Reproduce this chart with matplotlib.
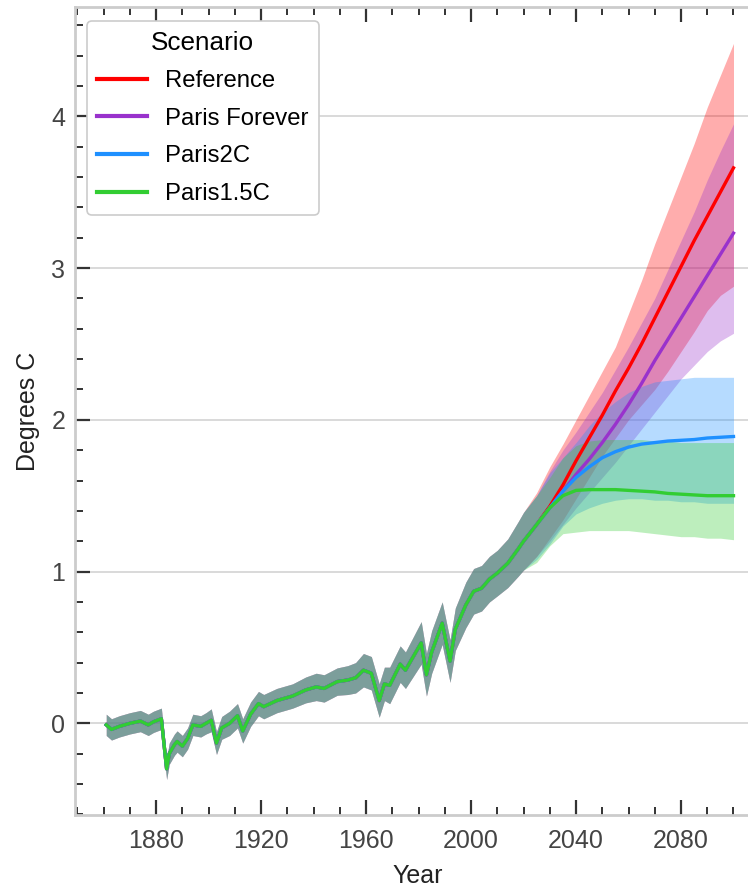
import matplotlib
matplotlib.use('Agg')
import matplotlib.pyplot as plt
from matplotlib.ticker import MultipleLocator

plt.rcParams['font.family'] = ['Liberation Sans', 'DejaVu Sans']

# observed / hindcast temperature anomaly, shared by every scenario
hist_years = [1861, 1863, 1866, 1870, 1874, 1877, 1879, 1882, 1884, 1885,
              1887, 1888, 1890, 1892, 1894, 1897, 1899, 1901, 1903, 1905,
              1908, 1911, 1913, 1916, 1919, 1921, 1926, 1932, 1937, 1941,
              1944, 1949, 1953, 1956, 1959, 1962, 1965, 1967, 1969, 1973,
              1975, 1981, 1983, 1985, 1989, 1992, 1994, 1998, 2001, 2004,
              2007, 2010, 2014, 2018, 2020]
hist_temp = [-0.01, -0.04, -0.02, 0.00, 0.015, -0.01, 0.01, 0.03, -0.30, -0.20,
             -0.14, -0.12, -0.15, -0.10, -0.01, -0.02, 0.00, 0.02, -0.13, -0.03,
             0.00, 0.05, -0.05, 0.06, 0.13, 0.11, 0.15, 0.18, 0.22, 0.24,
             0.23, 0.275, 0.285, 0.30, 0.35, 0.33, 0.15, 0.26, 0.25, 0.39,
             0.35, 0.53, 0.32, 0.47, 0.66, 0.41, 0.62, 0.78, 0.87, 0.89,
             0.95, 0.99, 1.055, 1.15, 1.20]
hist_spread = [0.07, 0.07, 0.07, 0.07, 0.07, 0.07, 0.07, 0.07, 0.07, 0.07,
               0.07, 0.07, 0.07, 0.07, 0.07, 0.07, 0.07, 0.075, 0.075, 0.075,
               0.08, 0.08, 0.08, 0.08, 0.08, 0.08, 0.08, 0.08, 0.085, 0.09,
               0.09, 0.09, 0.095, 0.10, 0.11, 0.11, 0.11, 0.11, 0.12, 0.12,
               0.12, 0.14, 0.14, 0.14, 0.14, 0.14, 0.14, 0.15, 0.15, 0.15,
               0.15, 0.15, 0.16, 0.18, 0.19]

# projections
future_years = [2025, 2030, 2035, 2040, 2045, 2050, 2055, 2060,
                2065, 2070, 2075, 2080, 2085, 2090, 2095, 2100]

ref_mean = [1.31, 1.43, 1.57, 1.73, 1.88, 2.03, 2.19, 2.34,
            2.50, 2.67, 2.84, 3.01, 3.18, 3.34, 3.50, 3.66]
ref_hi = [1.52, 1.69, 1.84, 2.00, 2.16, 2.32, 2.48, 2.70,
          2.92, 3.16, 3.38, 3.60, 3.82, 4.06, 4.27, 4.48]
ref_lo = [1.10, 1.22, 1.34, 1.48, 1.62, 1.76, 1.88, 2.00,
          2.10, 2.20, 2.32, 2.45, 2.58, 2.72, 2.82, 2.88]

pf_mean = [1.31, 1.42, 1.53, 1.64, 1.74, 1.85, 1.97, 2.10,
           2.24, 2.39, 2.53, 2.67, 2.81, 2.95, 3.09, 3.23]
pf_hi = [1.50, 1.66, 1.80, 1.92, 2.05, 2.18, 2.33, 2.48,
         2.64, 2.80, 2.99, 3.18, 3.37, 3.58, 3.77, 3.95]
pf_lo = [1.10, 1.20, 1.31, 1.42, 1.52, 1.62, 1.72, 1.83,
         1.94, 2.05, 2.16, 2.27, 2.36, 2.45, 2.52, 2.57]

p2_mean = [1.31, 1.42, 1.53, 1.62, 1.69, 1.75, 1.79, 1.82,
           1.84, 1.85, 1.86, 1.865, 1.87, 1.88, 1.885, 1.89]
p2_hi = [1.50, 1.65, 1.75, 1.85, 1.96, 2.05, 2.12, 2.18,
         2.22, 2.25, 2.26, 2.27, 2.28, 2.28, 2.28, 2.28]
p2_lo = [1.08, 1.18, 1.30, 1.38, 1.42, 1.45, 1.47, 1.48,
         1.48, 1.47, 1.47, 1.46, 1.46, 1.45, 1.45, 1.45]

p15_mean = [1.31, 1.42, 1.50, 1.535, 1.54, 1.54, 1.54, 1.535,
            1.53, 1.525, 1.515, 1.51, 1.505, 1.50, 1.50, 1.50]
p15_hi = [1.50, 1.62, 1.75, 1.83, 1.86, 1.87, 1.87, 1.87,
          1.87, 1.86, 1.86, 1.85, 1.85, 1.85, 1.85, 1.85]
p15_lo = [1.06, 1.17, 1.25, 1.26, 1.27, 1.27, 1.27, 1.27,
          1.26, 1.25, 1.24, 1.23, 1.23, 1.22, 1.22, 1.21]

scenarios = ['Reference', 'Paris Forever', 'Paris2C', 'Paris1.5C']
colors = ['#ff0000', '#9932cc', '#1e90ff', '#32cd32']
means = [ref_mean, pf_mean, p2_mean, p15_mean]
highs = [ref_hi, pf_hi, p2_hi, p15_hi]
lows = [ref_lo, pf_lo, p2_lo, p15_lo]

fig = plt.figure(figsize=(7.48, 8.88), dpi=100)
ax = fig.add_axes([0.1003, 0.0822, 0.9154, 0.9099])

hist_lo = [t - s for t, s in zip(hist_temp, hist_spread)]
hist_hi = [t + s for t, s in zip(hist_temp, hist_spread)]
years = hist_years + future_years

# uncertainty bands first, then the mean lines on top
for name, c, m, hi, lo in zip(scenarios, colors, means, highs, lows):
    ax.fill_between(years, hist_lo + lo, hist_hi + hi, color=c, alpha=0.32,
                    linewidth=0)
for name, c, m in zip(scenarios, colors, means):
    ax.plot(years, hist_temp + m, color=c, linewidth=2.4, label=name)

ax.set_xlim(1849.1, 2110)
ax.set_ylim(-0.604, 4.72)
ax.xaxis.set_major_locator(MultipleLocator(40))
ax.xaxis.set_minor_locator(MultipleLocator(10))
ax.yaxis.set_major_locator(MultipleLocator(1))
ax.yaxis.set_minor_locator(MultipleLocator(0.2))

ax.grid(True, axis='y', which='major', color='#d9d9d9', linewidth=1.4)
ax.set_axisbelow(True)
for side in ['left', 'bottom', 'top']:
    ax.spines[side].set_color('#cccccc')
    ax.spines[side].set_linewidth(2)
ax.spines['right'].set_visible(False)

ax.tick_params(which='both', direction='in', top=True, right=False,
               color='#333333', labelcolor='#444444', labelsize=18)
ax.tick_params(which='major', length=11, width=1.6)
ax.tick_params(which='minor', length=6, width=1.4)
ax.tick_params(axis='x', which='major', pad=10)
ax.tick_params(axis='y', which='major', pad=7)

ax.set_xlabel('Year', fontsize=18, color='#222222', labelpad=8)
ax.set_ylabel('Degrees C', fontsize=18, color='#222222', labelpad=8)

leg = ax.legend(title='Scenario', loc='upper left', bbox_to_anchor=(0.0175, 0.983),
                borderaxespad=0, fontsize=17.2, title_fontsize=18.8,
                handlelength=2.1, handletextpad=0.75, labelspacing=0.65,
                borderpad=0.42, frameon=True, fancybox=True, framealpha=1)
leg.get_frame().set_edgecolor('#cccccc')
leg.get_frame().set_linewidth(1.2)
for line in leg.get_lines():
    line.set_linewidth(3)

plt.savefig('out.png', dpi=100)
